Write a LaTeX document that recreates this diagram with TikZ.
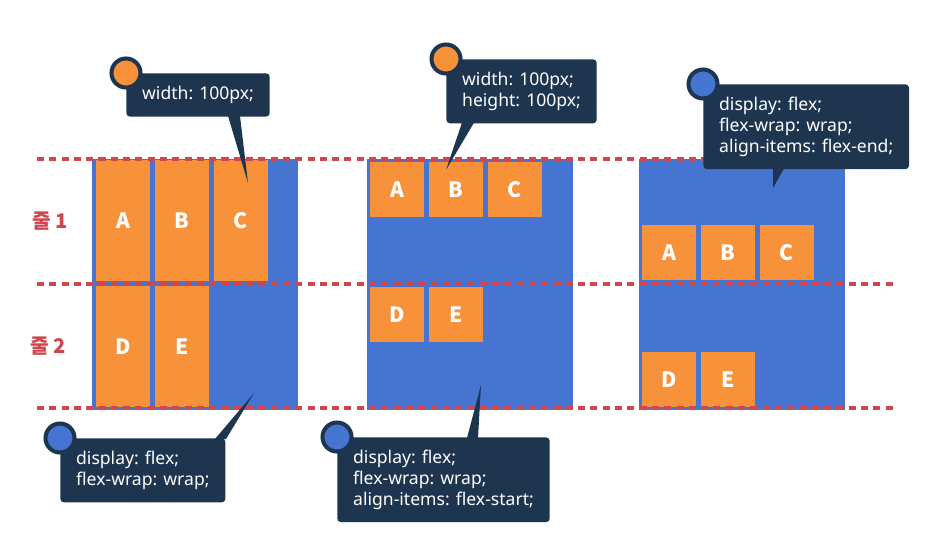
\documentclass[tikz,border=0pt]{standalone}
\usepackage{fontspec}
\setmainfont{Noto Sans}
\newfontfamily\korfont{Noto Sans CJK KR}
\usetikzlibrary{positioning,calc}
\definecolor{itemorange}{HTML}{F7923A}
\definecolor{flexblue}{HTML}{4674D1}
\definecolor{notenavy}{HTML}{1E3550}
\definecolor{linered}{HTML}{D0464C}

\begin{document}
\begin{tikzpicture}[
  x=0.02cm,y=-0.02cm,
  node distance=0.08cm,
  container/.style={fill=flexblue,anchor=north west,minimum width=4.12cm,minimum height=5.02cm,inner sep=0pt},
  item/.style={fill=itemorange,text=white,font=\korfont\bfseries\fontsize{12}{14}\selectfont,minimum width=1.08cm,minimum height=1.1cm,inner sep=0pt},
  tall item/.style={item,minimum height=2.42cm},
  note/.style={fill=notenavy,text=white,rounded corners=2pt,align=left,anchor=north west,inner xsep=9pt,inner ysep=7.3pt,font=\fontsize{10}{11.8}\selectfont},
  dot/.style={circle,draw=notenavy,line width=2.3pt,minimum size=0.58cm,inner sep=0pt},
  pointer/.style={fill=notenavy},
  row line/.style={draw=linered,line width=2pt,dash pattern=on 4pt off 3pt},
  row label/.style={text=linered,font=\korfont\bfseries\fontsize{11.5}{13}\selectfont}
]
\path[use as bounding box,fill=white] (0,0) rectangle (937,551);

% flex-wrap: wrap
\node[container] (flex1) at (92,159) {};
\node[tall item,anchor=north west] (i1a) at (96,160) {A};
\node[tall item,right=of i1a] (i1b) {B};
\node[tall item,right=of i1b] (i1c) {C};
\node[tall item,below=of i1a] (i1d) {D};
\node[tall item,right=of i1d] (i1e) {E};

% align-items: flex-start
\node[container] (flex2) at (367,159) {};
\node[item,anchor=north west] (i2a) at (370,162) {A};
\node[item,right=of i2a] (i2b) {B};
\node[item,right=of i2b] (i2c) {C};
\node[item,anchor=north west] (i2d) at (370,287) {D};
\node[item,right=of i2d] (i2e) {E};

% align-items: flex-end
\node[container] (flex3) at (639,159) {};
\node[item,anchor=north west] (i3a) at (642,225) {A};
\node[item,right=of i3a] (i3b) {B};
\node[item,right=of i3b] (i3c) {C};
\node[item,anchor=north west] (i3d) at (642,352) {D};
\node[item,right=of i3d] (i3e) {E};

% rows
\draw[row line] (37,159) -- (897,159);
\draw[row line] (37,284) -- (897,284);
\draw[row line] (37,408) -- (897,408);
\node[row label] (row1) at (50,221) {줄 1};
\node[row label] (row2) at (48,346) {줄 2};

% notes
\node[note] (n1) at (126,73) {width: 100px;};
\coordinate (t1) at (248,183);
\fill[pointer] ($(n1.south west)+(102,-1)$) -- (t1) -- ($(n1.south west)+(114,-1)$) -- cycle;
\node[dot,fill=itemorange] (d1) at (n1.north west) {};

\node[note] (n2) at (446,59) {width: 100px;\\height: 100px;};
\coordinate (t2) at (446,170);
\fill[pointer] ($(n2.south west)+(16,-1)$) -- (t2) -- ($(n2.south west)+(28,-1)$) -- cycle;
\node[dot,fill=itemorange] (d2) at (n2.north west) {};

\node[note] (n3) at (703,84) {display: flex;\\flex-wrap: wrap;\\align-items: flex-end;};
\coordinate (t3) at (773,188);
\fill[pointer] ($(n3.south west)+(70,-1)$) -- (t3) -- ($(n3.south west)+(81,-1)$) -- cycle;
\node[dot,fill=flexblue] (d3) at (n3.north west) {};

\node[note] (n4) at (60,438) {display: flex;\\flex-wrap: wrap;};
\coordinate (t4) at (254,393);
\fill[pointer] ($(n4.north west)+(155,1)$) -- (t4) -- ($(n4.north west)+(166,1)$) -- cycle;
\node[dot,fill=flexblue] (d4) at (n4.north west) {};

\node[note] (n5) at (337,437) {display: flex;\\flex-wrap: wrap;\\align-items: flex-start;};
\coordinate (t5) at (481,385);
\fill[pointer] ($(n5.north west)+(130,1)$) -- (t5) -- ($(n5.north west)+(141,1)$) -- cycle;
\node[dot,fill=flexblue] (d5) at (n5.north west) {};
\end{tikzpicture}
\end{document}
